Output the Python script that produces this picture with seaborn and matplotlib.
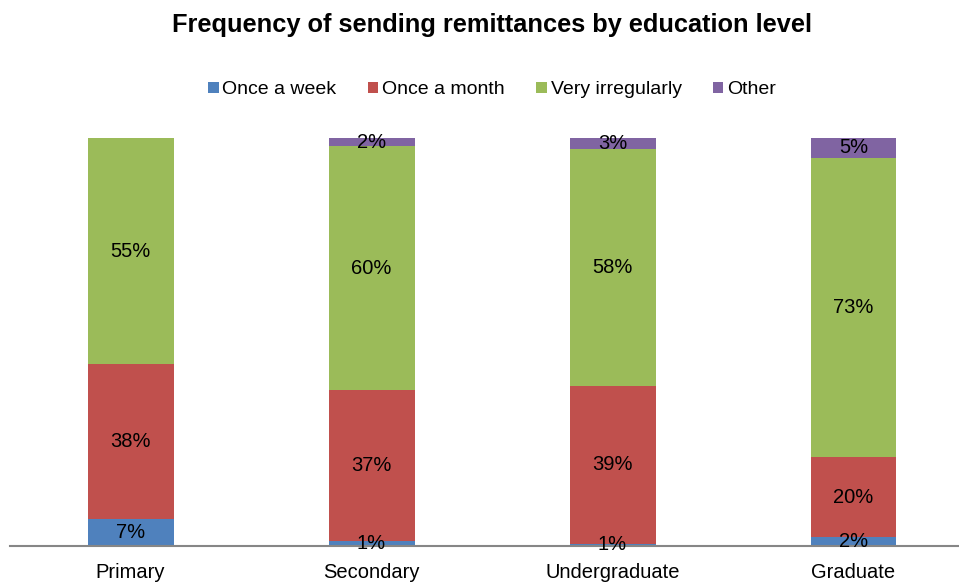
import matplotlib
matplotlib.use("Agg")
import matplotlib.pyplot as plt
from matplotlib.patches import Patch
import seaborn as sns
import pandas as pd
import numpy as np

categories = ["Primary", "Secondary", "Undergraduate", "Graduate"]
series = ["Once a week", "Once a month", "Very irregularly", "Other"]
once_a_week = [6.6, 1.2, 0.6, 2.2]
once_a_month = [38.0, 37.0, 38.7, 19.6]
very_irregularly = [55.4, 59.8, 57.9, 73.3]
other = [0.0, 2.0, 2.8, 4.9]
colors = ["#4F81BD", "#C0504D", "#9BBB59", "#8064A2"]

sns.set_theme(style="white")
plt.rcParams["font.family"] = ["Liberation Sans", "DejaVu Sans"]
plt.rcParams["text.color"] = "black"

values = [once_a_week, once_a_month, very_irregularly, other]
cum = np.cumsum(np.array(values), axis=0)

fig = plt.figure(figsize=(9.59, 5.82), dpi=100)
ax = fig.add_axes([10 / 959, 36 / 582, 949 / 959, 408 / 582])

width = 86 / 241
# draw cumulative totals from top layer down so layers stack visually
for i in range(len(series) - 1, -1, -1):
    df = pd.DataFrame({"cat": categories, "val": cum[i]})
    sns.barplot(data=df, x="cat", y="val", color=colors[i], width=width,
                saturation=1, ax=ax, edgecolor="none", linewidth=0)

for i in range(len(series)):
    for j, cat in enumerate(categories):
        v = values[i][j]
        if v <= 0:
            continue
        center = cum[i][j] - v / 2
        ax.text(j, center, f"{round(v):d}%", ha="center", va="center",
                fontsize=14.5, color="black")

ax.set_ylim(0, 100)
ax.set_xlim(-0.5, -0.5 + 949 / 241)
ax.set_xlabel("")
ax.set_ylabel("")
ax.set_yticks([])
for s in ["top", "right", "left"]:
    ax.spines[s].set_visible(False)
ax.spines["bottom"].set_color("#868686")
ax.spines["bottom"].set_linewidth(1.5)
ax.tick_params(axis="x", length=0, pad=12, labelsize=14.5, colors="black")

fig.text(492 / 959, 1 - 25 / 582, "Frequency of sending remittances by education level",
         ha="center", va="center", fontsize=18.3, fontweight="bold", color="black")

handles = [Patch(facecolor=c, edgecolor="none") for c in colors]
fig.legend(handles, series, loc="center", bbox_to_anchor=(492 / 959, 1 - 90 / 582),
           ncol=4, frameon=False, fontsize=14, handlelength=0.55, handleheight=0.55,
           handletextpad=0.2, columnspacing=1.6, labelcolor="black")

fig.savefig("out.png", dpi=100)
